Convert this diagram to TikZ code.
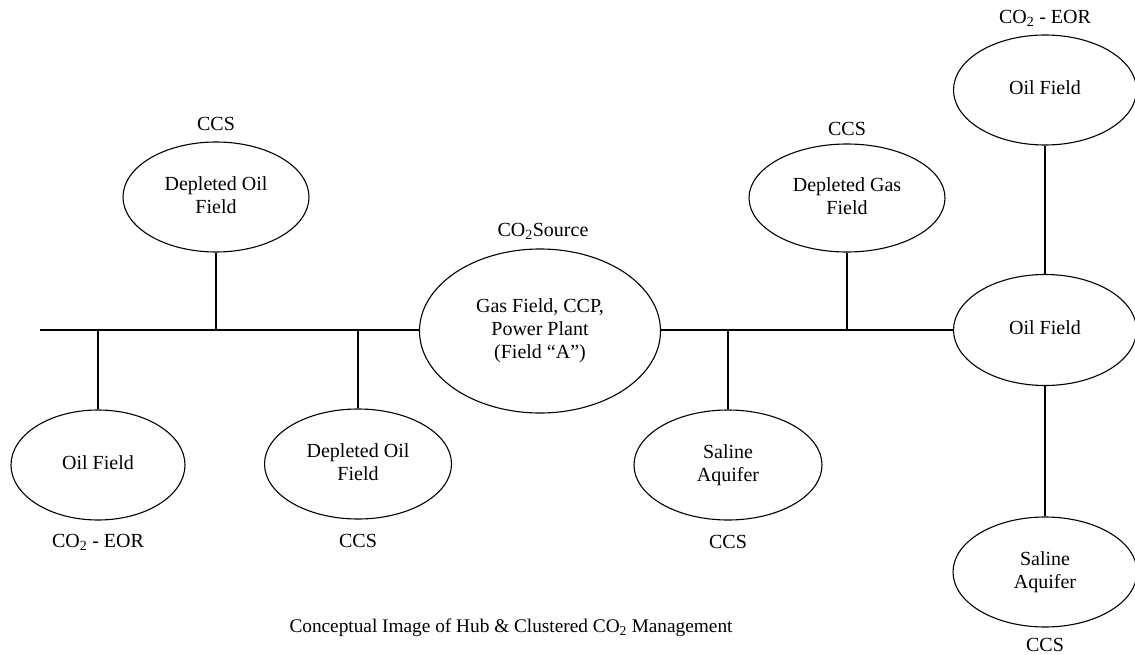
\documentclass[tikz,border=0pt]{standalone}
\usepackage{fontspec}
\setmainfont{Liberation Serif}
\usetikzlibrary{shapes.geometric}
\newcommand{\ctwo}{CO\textsubscript{2}}
\newcommand{\up}[1]{\raisebox{5pt}{\begin{tabular}{@{}c@{}}#1\end{tabular}}}
\tikzset{
  field/.style={draw, ellipse, line width=1.1pt, inner sep=0pt, font=\fontsize{20}{23}\selectfont},
  tag/.style={inner sep=0pt, font=\fontsize{20}{23}\selectfont},
  link/.style={line width=1.1pt}
}
\begin{document}
\begin{tikzpicture}[x=1pt,y=-1pt]
\useasboundingbox (0,0) rectangle (1135,655);
% fields
\node[field, minimum width=186pt, minimum height=110pt] (dofT) at (216,197) {\up{Depleted Oil\\Field}};
\node[field, minimum width=174pt, minimum height=110pt] (ofL) at (98,465) {\up{Oil Field}};
\node[field, minimum width=187pt, minimum height=110pt] (dofB) at (358,464) {\up{Depleted Oil\\Field}};
\node[field, minimum width=241pt, minimum height=164pt] (hub) at (540,331) {\up{Gas Field, CCP,\\Power Plant\\(Field “A”)}};
\node[field, minimum width=196pt, minimum height=108pt] (dgf) at (847,198) {\up{Depleted Gas\\Field}};
\node[field, minimum width=188pt, minimum height=110pt] (salM) at (728,465) {\up{Saline\\Aquifer}};
\node[field, minimum width=183pt, minimum height=110pt] (ofT) at (1045,90) {\up{Oil Field}};
\node[field, minimum width=183pt, minimum height=111pt] (ofM) at (1045,330) {\up{Oil Field}};
\node[field, minimum width=184pt, minimum height=110pt] (salR) at (1045,572) {\up{Saline\\Aquifer}};
% labels
\node[tag] (tdofT) at (216,124) {CCS};
\node[tag] (thub) at (543,231) {\ctwo Source};
\node[tag] (tdgf) at (847,129) {CCS};
\node[tag] (tofT) at (1045,18) {\ctwo\ - EOR};
\node[tag] (tofL) at (98,542) {\ctwo\ - EOR};
\node[tag] (tdofB) at (358,541) {CCS};
\node[tag] (tsalM) at (728,542) {CCS};
\node[tag] (tsalR) at (1045,645) {CCS};
\node[tag, font=\fontsize{19.3}{22}\selectfont] (caption) at (511,628) {Conceptual Image of Hub \& Clustered \ctwo\ Management};
% trunk
\coordinate (start) at (40,330);
\coordinate (jA) at (98,330);
\coordinate (jB) at (216,330);
\coordinate (jC) at (358,330);
\coordinate (jD) at (728,330);
\coordinate (jE) at (847,330);
\draw[link] (start) -- (start -| hub.west);
\draw[link] (start -| hub.east) -- (start -| ofM.west);
\draw[link] (jA) -- (ofL.north);
\draw[link] (dofT.south) -- (jB);
\draw[link] (jC) -- (dofB.north);
\draw[link] (jD) -- (salM.north);
\draw[link] (dgf.south) -- (jE);
\draw[link] (ofT.south) -- (ofM.north);
\draw[link] (ofM.south) -- (salR.north);
\end{tikzpicture}
\end{document}
